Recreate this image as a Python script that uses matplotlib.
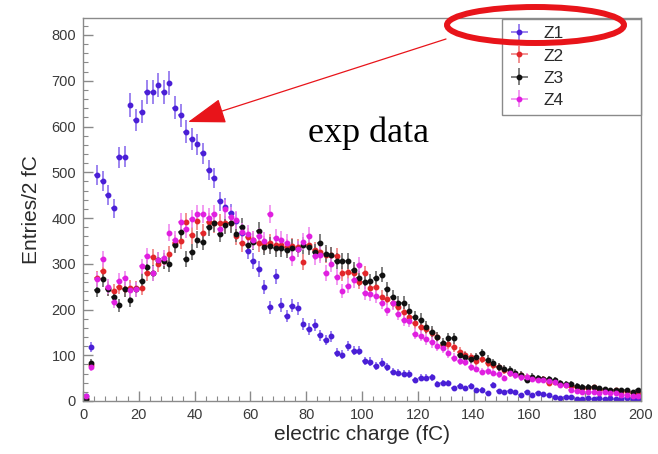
import numpy as np
import matplotlib
matplotlib.use("Agg")
import matplotlib.pyplot as plt
from matplotlib.patches import Ellipse, FancyArrowPatch
from matplotlib.ticker import MultipleLocator

# bin centres (2 fC bins)
charge = np.arange(1, 200, 2)

z1 = [10, 118, 494, 481, 450, 421, 533, 534, 647, 614,
      632, 675, 675, 691, 675, 696, 641, 625, 589, 573,
      561, 541, 505, 487, 437, 424, 410, 394, 367, 328,
      306, 289, 249, 205, 273, 210, 186, 208, 203, 168,
      157, 166, 144, 133, 141, 106, 101, 120, 110, 110,
      87, 86, 77, 84, 75, 64, 62, 60, 59, 46,
      51, 51, 52, 38, 39, 40, 28, 33, 28, 33,
      24, 25, 18, 35, 22, 20, 22, 20, 13, 20,
      13, 18, 15, 14, 9, 6, 8, 8, 4, 5,
      6, 5, 6, 5, 6, 5, 5, 6, 4, 5]

z2 = [5, 78, 268, 284, 246, 240, 249, 244, 248, 246,
      248, 280, 315, 300, 305, 321, 345, 350, 392, 362,
      394, 368, 392, 388, 388, 388, 390, 361, 345, 359,
      352, 345, 343, 346, 341, 340, 336, 338, 336, 304,
      340, 330, 325, 319, 319, 316, 279, 283, 280, 261,
      279, 246, 250, 228, 224, 215, 206, 195, 184, 171,
      162, 158, 148, 140, 122, 125, 118, 108, 100, 96,
      88, 92, 84, 78, 74, 68, 62, 60, 56, 52,
      50, 48, 48, 40, 42, 38, 36, 32, 30, 29,
      28, 30, 26, 24, 22, 24, 20, 21, 18, 18]

z3 = [5, 82, 243, 266, 245, 228, 209, 244, 221, 244,
      263, 292, 280, 308, 305, 299, 341, 370, 310, 326,
      353, 348, 380, 390, 366, 384, 388, 366, 381, 342,
      348, 372, 337, 339, 334, 334, 331, 335, 332, 340,
      337, 326, 346, 322, 319, 305, 305, 305, 286, 268,
      261, 262, 268, 276, 245, 228, 214, 215, 197, 184,
      178, 162, 151, 140, 126, 137, 137, 100, 97, 91,
      96, 104, 90, 82, 75, 70, 68, 62, 57, 46,
      53, 50, 48, 47, 46, 40, 38, 37, 33, 31,
      31, 30, 28, 26, 24, 23, 24, 24, 20, 23]

z4 = [10, 75, 266, 310, 250, 217, 263, 268, 243, 244,
      294, 317, 279, 308, 312, 368, 353, 392, 375, 397,
      409, 409, 401, 408, 377, 419, 403, 395, 369, 365,
      352, 360, 350, 409, 356, 352, 346, 312, 332, 348,
      361, 316, 320, 280, 300, 271, 240, 252, 264, 297,
      236, 234, 230, 215, 200, 214, 191, 178, 174, 147,
      143, 135, 128, 120, 115, 104, 95, 88, 86, 75,
      71, 64, 66, 62, 58, 50, 61, 56, 52, 53,
      48, 46, 45, 43, 42, 36, 35, 24, 21, 20,
      20, 19, 18, 19, 18, 18, 14, 13, 12, 12]

series_names = ["Z1", "Z2", "Z3", "Z4"]
x_ticks = [0, 20, 40, 60, 80, 100, 120, 140, 160, 180, 200]
y_ticks = [0, 100, 200, 300, 400, 500, 600, 700, 800]

colors = ["#4a1fd6", "#e2262a", "#111111", "#e01fe0"]
ecolors = ["#8c70ee", "#f07f7f", "#6a6a6a", "#f08af0"]

W, H = 658, 454
fig = plt.figure(figsize=(W / 100, H / 100), dpi=100)
fig.patch.set_facecolor("white")

L, R, B, T = 83, 641, 401, 18
ax = fig.add_axes([L / W, 1 - B / H, (R - L) / W, (B - T) / H])

handles = []
for name, vals, c, ec in zip(series_names, [z1, z2, z3, z4], colors, ecolors):
    v = np.array(vals, dtype=float)
    h = ax.errorbar(charge, v, yerr=np.sqrt(v), xerr=1.0, fmt="o", ms=3.2,
                    color=c, mec=c, mfc=c, ecolor=ec, elinewidth=1.2,
                    capsize=0, label=name)
    handles.append(h)

ax.set_xlim(0, 200)
ax.set_ylim(0, (B - T) / 0.4575)
ax.set_xticks(x_ticks)
ax.set_yticks(y_ticks)
ax.xaxis.set_minor_locator(MultipleLocator(4))
ax.yaxis.set_minor_locator(MultipleLocator(20))

frame_c = "#8a8a8a"
for s in ax.spines.values():
    s.set_color(frame_c)
    s.set_linewidth(1.0)
ax.tick_params(which="both", direction="in", color=frame_c, top=False, right=False)
ax.tick_params(which="major", length=7, width=1.0, labelsize=10.5, labelcolor="#3a3a3a", pad=5)
ax.tick_params(which="minor", length=3.5, width=0.8)
for lab in ax.get_xticklabels() + ax.get_yticklabels():
    lab.set_family("Liberation Sans")

ax.set_xlabel("electric charge (fC)", fontsize=15, family="Liberation Sans", color="#2a2a2a")
ax.set_ylabel("Entries/2 fC", fontsize=15, family="Liberation Sans", color="#2a2a2a")
ax.xaxis.set_label_coords(0.5, (B - 425) / (B - T))
ax.yaxis.set_label_coords((41 - L) / (R - L), 0.5)

leg = fig.legend(handles=handles, labels=series_names, loc="center",
                 bbox_to_anchor=(502 / W, 1 - 115 / H, 139 / W, 96 / H),
                 bbox_transform=fig.transFigure, fancybox=False,
                 edgecolor=frame_c, framealpha=1, borderaxespad=0,
                 prop={"family": "Liberation Sans", "size": 12.5},
                 labelspacing=0.4, handlelength=1.2, handletextpad=0.8,
                 mode="expand", borderpad=0.4)
leg.get_frame().set_linewidth(1.0)
for t in leg.get_texts():
    t.set_color("#2a2a2a")

# annotation
red = "#e8141a"
ell = Ellipse((535.5 / W, 1 - 25 / H), 177 / W, 36 / H, transform=fig.transFigure,
              fill=False, edgecolor=red, linewidth=4.3, zorder=10)
fig.add_artist(ell)
arr = FancyArrowPatch(posA=(446 / W, 1 - 39 / H), posB=(188 / W, 1 - 122 / H),
                      transform=fig.transFigure, color=red, lw=0.9,
                      arrowstyle="-|>,head_length=2.4,head_width=0.8",
                      mutation_scale=10, shrinkA=0, shrinkB=0, zorder=10)
fig.add_artist(arr)
fig.text(308 / W, 1 - 142 / H, "exp data", fontsize=26, family="Liberation Serif",
         color="black", ha="left", va="baseline")

fig.savefig("out.png", dpi=100, facecolor="white")
